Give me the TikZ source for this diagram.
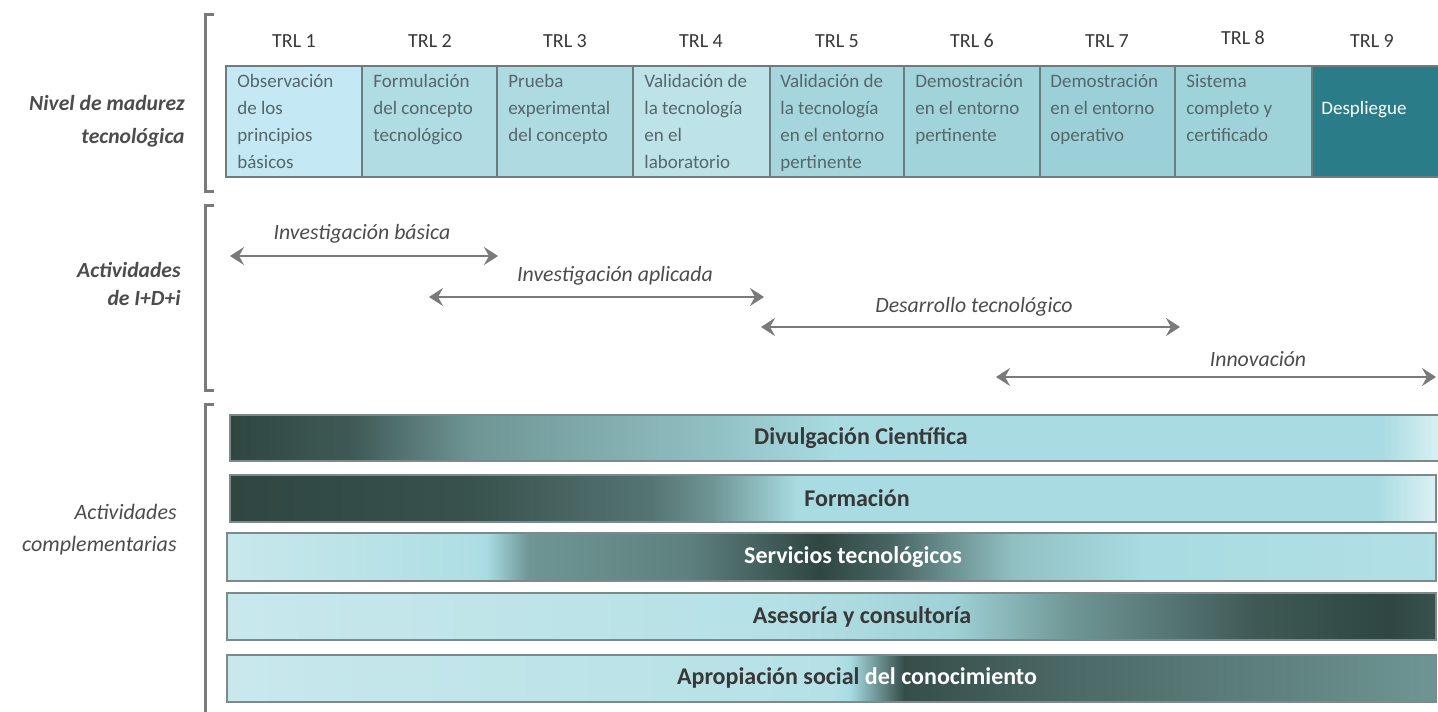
\documentclass[tikz,border=0pt]{standalone}
\usepackage{fontspec}
\setmainfont{Carlito}
\usetikzlibrary{arrows.meta}
\definecolor{dk}{HTML}{2F4641}
\definecolor{md}{HTML}{6E9594}
\definecolor{lt}{HTML}{A8DCE2}
\definecolor{pale}{HTML}{C8E8EC}
\definecolor{rayagris}{HTML}{7A7A7A}
\definecolor{bordegris}{HTML}{6E7C7E}
\definecolor{txtgris}{HTML}{56666A}
\definecolor{trlA}{HTML}{C4E9F4}
\definecolor{trlB}{HTML}{B0DCE3}
\definecolor{trlC}{HTML}{ADDBE1}
\definecolor{trlD}{HTML}{BDE3E9}
\definecolor{trlE}{HTML}{A5D6DD}
\definecolor{trlF}{HTML}{A0D3DA}
\definecolor{trlG}{HTML}{9BD0D8}
\definecolor{trlH}{HTML}{9FD3DA}
\definecolor{trlI}{HTML}{2A7D88}
\pgfdeclarehorizontalshading{divulgshade}{100bp}{color(0bp)=(dk); color(25bp)=(dk); color(30bp)=(dk!75!md); color(35bp)=(md); color(45bp)=(md!40!lt); color(50bp)=(lt); color(72.5bp)=(lt); color(75bp)=(lt!40!white); color(100bp)=(lt!40!white)}
\pgfdeclarehorizontalshading{formshade}{100bp}{color(0bp)=(dk); color(25bp)=(dk); color(35bp)=(dk!85!md); color(42.5bp)=(dk!40!md); color(45bp)=(md); color(48.5bp)=(lt); color(72.5bp)=(lt); color(75bp)=(lt!40!white); color(100bp)=(lt!40!white)}
\pgfdeclarehorizontalshading{servshade}{100bp}{color(0bp)=(pale); color(25bp)=(pale); color(35bp)=(lt!80!pale); color(35.75bp)=(lt); color(37.5bp)=(md); color(44bp)=(md!75!dk); color(49.5bp)=(dk); color(52.5bp)=(dk!60!md); color(57.5bp)=(md!40!lt); color(63bp)=(lt); color(75bp)=(lt!70!pale); color(100bp)=(lt!70!pale)}
\pgfdeclarehorizontalshading{asesshade}{100bp}{color(0bp)=(pale); color(25bp)=(pale); color(47.5bp)=(lt!60!pale); color(55bp)=(lt!85!md); color(60bp)=(md); color(67.5bp)=(md!25!dk); color(73bp)=(dk); color(75bp)=(dk!85!md); color(100bp)=(dk!85!md)}
\pgfdeclarehorizontalshading{apropshade}{100bp}{color(0bp)=(pale); color(25bp)=(pale); color(50bp)=(lt!60!pale); color(50.75bp)=(lt); color(53bp)=(dk!90!md); color(60bp)=(dk!55!md); color(75bp)=(md); color(100bp)=(md)}

\begin{document}
\begin{tikzpicture}[x=0.5pt, y=-0.5pt,
  corchete/.style={draw=rayagris, line width=1.5pt},
  trlbox/.style={draw=bordegris, line width=1pt},
  trlnum/.style={font=\fontsize{10}{12}\selectfont, text=black!78},
  trltxt/.style={anchor=north west, align=left, inner sep=0pt, text=txtgris, font=\fontsize{9.5}{13.5}\selectfont},
  sidelbl/.style={anchor=east, align=right, inner sep=0pt, text=black!70, font=\fontsize{10.8}{16.5}\selectfont\itshape},
  flecha/.style={draw=rayagris, line width=1.4pt, {Stealth[length=7pt,width=9pt,inset=2.5pt]}-{Stealth[length=7pt,width=9pt,inset=2.5pt]}},
  flechalbl/.style={text=black!70, font=\fontsize{10.9}{13}\selectfont\itshape},
  barra/.style={draw=bordegris!90, line width=1.2pt},
  barlbl/.style={text=black!78, font=\fontsize{12}{14}\selectfont\bfseries}]
\useasboundingbox (0,0) rectangle (1438,711);
%
\node[sidelbl] (nivel) at (185,121) {\bfseries Nivel de madurez\\\bfseries tecnológica};
\node[sidelbl] (idi) at (181,284) {\bfseries Actividades\\[-2.5pt]\bfseries de I+D+i};
\node[sidelbl, font=\fontsize{11}{16}\selectfont\itshape] (compl) at (177,530) {Actividades\\complementarias};
%
\draw[corchete] (214,15)--(205,15)--(205,192)--(214,192);
\draw[corchete] (214,206)--(205,206)--(205,390)--(214,390);
\draw[corchete] (214,404)--(205,404)--(205,715);
%
\node[trlnum] (trl1) at (294,41) {TRL 1};
\node[trlnum] (trl2) at (430,41) {TRL 2};
\node[trlnum] (trl3) at (565,41) {TRL 3};
\node[trlnum] (trl4) at (701,41) {TRL 4};
\node[trlnum] (trl5) at (837,41) {TRL 5};
\node[trlnum] (trl6) at (972,41) {TRL 6};
\node[trlnum] (trl7) at (1107,41) {TRL 7};
\node[trlnum] (trl8) at (1243,38) {TRL 8};
\node[trlnum] (trl9) at (1372,41) {TRL 9};
%
\draw[trlbox, fill=trlA] (226,66) rectangle (362,177);
\draw[trlbox, fill=trlB] (362,66) rectangle (497,177);
\draw[trlbox, fill=trlC] (497,66) rectangle (633,177);
\draw[trlbox, fill=trlD] (633,66) rectangle (770,177);
\draw[trlbox, fill=trlE] (770,66) rectangle (904,177);
\draw[trlbox, fill=trlF] (904,66) rectangle (1040,177);
\draw[trlbox, fill=trlG] (1040,66) rectangle (1175,177);
\draw[trlbox, fill=trlH] (1175,66) rectangle (1312,177);
\draw[trlbox, fill=trlI] (1312,66) rectangle (1445,177);
%
\node[trltxt] (d1) at (237,74) {Observación\\de los\\principios\\básicos};
\node[trltxt] (d2) at (373,74) {Formulación\\del concepto\\tecnológico};
\node[trltxt] (d3) at (508,74) {Prueba\\experimental\\del concepto};
\node[trltxt] (d4) at (644,74) {Validación de\\la tecnología\\en el\\laboratorio};
\node[trltxt] (d5) at (780,74) {Validación de\\la tecnología\\en el entorno\\pertinente};
\node[trltxt] (d6) at (915,74) {Demostración\\en el entorno\\pertinente};
\node[trltxt] (d7) at (1050,74) {Demostración\\en el entorno\\operativo};
\node[trltxt] (d8) at (1186,74) {Sistema\\completo y\\certificado};
\node[trltxt, anchor=west, text=white] (d9) at (1321,110) {Despliegue};
%
\coordinate (ib-w) at (230,256);
\coordinate (ib-e) at (498,256);
\coordinate (ia-w) at (429,297);
\coordinate (ia-e) at (764,297);
\coordinate (dt-w) at (761,327);
\coordinate (dt-e) at (1180,327);
\coordinate (in-w) at (996,377);
\coordinate (in-e) at (1436,377);
\draw[flecha] (ib-w)--(ib-e);
\draw[flecha] (ia-w)--(ia-e);
\draw[flecha] (dt-w)--(dt-e);
\draw[flecha] (in-w)--(in-e);
\node[flechalbl] (lb1) at (362,234) {Investigación básica};
\node[flechalbl] (lb2) at (615,276) {Investigación aplicada};
\node[flechalbl] (lb3) at (974,307) {Desarrollo tecnológico};
\node[flechalbl] (lb4) at (1258,359) {Innovación};
%
\shadedraw[barra, shading=divulgshade] (230,415) rectangle (1442,461);
\shadedraw[barra, shading=formshade] (230,475) rectangle (1436,522);
\shadedraw[barra, shading=servshade] (227,533) rectangle (1436,581);
\shadedraw[barra, shading=asesshade] (227,593) rectangle (1436,640);
\shadedraw[barra, shading=apropshade] (227,655) rectangle (1436,702);
%
\node[barlbl] (sb1) at (861,438) {Divulgación Científica};
\node[barlbl] (sb2) at (857,498) {Formación};
\node[barlbl, text=white] (sb3) at (853,557) {Servicios tecnológicos};
\node[barlbl] (sb4) at (862,617) {Asesoría y consultoría};
\node[barlbl] (sb5) at (857,678) {Apropiación social \textcolor{white}{del conocimiento}};
\end{tikzpicture}
\end{document}
